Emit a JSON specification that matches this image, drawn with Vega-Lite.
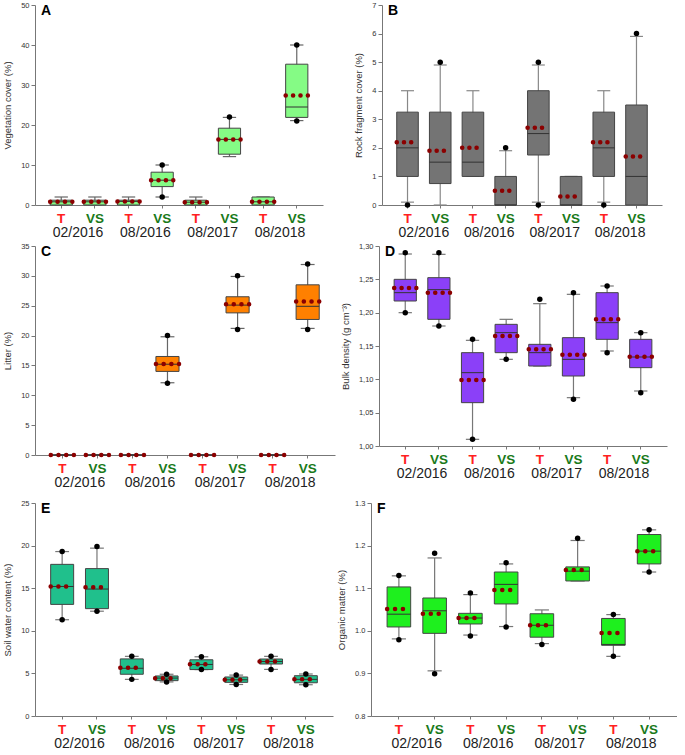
{
"$schema": "https://vega.github.io/schema/vega-lite/v6.json",
"padding": {"left": 2, "top": 1, "right": 0, "bottom": 0},
"background": "white",
"config": {
 "view": {"stroke": null},
 "font": "Liberation Sans",
 "axis": {"grid": false, "domainColor": "#777", "tickColor": "#777", "labelColor": "#333", "titleColor": "#333", "titleFontWeight": "normal", "labelFont": "Liberation Sans", "titleFont": "Liberation Sans"},
 "axisY": {"labelFontSize": 7.5, "titleFontSize": 9.5, "tickSize": 4, "labelPadding": 2, "titlePadding": 8, "labelOverlap": false},
 "axisX": {"tickSize": 3, "labelAngle": 0, "labelPadding": 3, "labelOverlap": false}
},
"datasets": {
 "A": [
  {"cat": "T|02/2016", "date": "02/2016", "q1": 0, "med": 0.8, "q3": 1.2, "lo": 0, "hi": 2, "mean": 0.8},
  {"cat": "VS|02/2016", "date": "02/2016", "q1": 0, "med": 0.8, "q3": 1.2, "lo": 0, "hi": 2, "mean": 0.8},
  {"cat": "T|08/2016", "date": "08/2016", "q1": 0, "med": 0.9, "q3": 1.2, "lo": 0, "hi": 2, "mean": 0.9},
  {"cat": "VS|08/2016", "date": "08/2016", "q1": 4.6, "med": 6.2, "q3": 8.2, "lo": 2, "hi": 10, "mean": 6.2},
  {"cat": "T|08/2017", "date": "08/2017", "q1": 0, "med": 0.7, "q3": 1.2, "lo": 0, "hi": 2, "mean": 0.7},
  {"cat": "VS|08/2017", "date": "08/2017", "q1": 12.7, "med": 16.4, "q3": 19.2, "lo": 12.1, "hi": 21.9, "mean": 16.4},
  {"cat": "T|08/2018", "date": "08/2018", "q1": 0, "med": 0.8, "q3": 2, "lo": 0, "hi": 2, "mean": 0.8},
  {"cat": "VS|08/2018", "date": "08/2018", "q1": 21.9, "med": 24.5, "q3": 35.2, "lo": 21.1, "hi": 40, "mean": 27.4}
 ],
 "Apts": [
  {"cat": "VS|08/2016", "v": 2}, {"cat": "VS|08/2016", "v": 10},
  {"cat": "VS|08/2017", "v": 22},
  {"cat": "VS|08/2018", "v": 21}, {"cat": "VS|08/2018", "v": 40}
 ],
 "B": [
  {"cat": "T|02/2016", "date": "02/2016", "q1": 1, "med": 2, "q3": 3.25, "lo": 0.1, "hi": 4, "mean": 2.2},
  {"cat": "VS|02/2016", "date": "02/2016", "q1": 0.75, "med": 1.5, "q3": 3.25, "lo": 0, "hi": 4.9, "mean": 1.9},
  {"cat": "T|08/2016", "date": "08/2016", "q1": 1, "med": 1.5, "q3": 3.25, "lo": 1, "hi": 4, "mean": 2.0},
  {"cat": "VS|08/2016", "date": "08/2016", "q1": 0, "med": 0, "q3": 1, "lo": 0, "hi": 1.9, "mean": 0.5},
  {"cat": "T|08/2017", "date": "08/2017", "q1": 1.75, "med": 2.5, "q3": 4, "lo": 0.1, "hi": 4.9, "mean": 2.7},
  {"cat": "VS|08/2017", "date": "08/2017", "q1": 0, "med": 0, "q3": 1, "lo": 0, "hi": 1, "mean": 0.3},
  {"cat": "T|08/2018", "date": "08/2018", "q1": 1, "med": 2, "q3": 3.25, "lo": 0.1, "hi": 4, "mean": 2.2},
  {"cat": "VS|08/2018", "date": "08/2018", "q1": 0, "med": 1, "q3": 3.5, "lo": 0, "hi": 5.9, "mean": 1.7}
 ],
 "Bpts": [
  {"cat": "T|02/2016", "v": 0}, {"cat": "VS|02/2016", "v": 5}, {"cat": "VS|08/2016", "v": 2},
  {"cat": "T|08/2017", "v": 0}, {"cat": "T|08/2017", "v": 5}, {"cat": "T|08/2018", "v": 0}, {"cat": "VS|08/2018", "v": 6}
 ],
 "C": [
  {"cat": "T|02/2016", "date": "02/2016", "q1": 0, "med": 0, "q3": 0, "lo": 0, "hi": 0, "mean": 0},
  {"cat": "VS|02/2016", "date": "02/2016", "q1": 0, "med": 0, "q3": 0, "lo": 0, "hi": 0, "mean": 0},
  {"cat": "T|08/2016", "date": "08/2016", "q1": 0, "med": 0, "q3": 0, "lo": 0, "hi": 0, "mean": 0},
  {"cat": "VS|08/2016", "date": "08/2016", "q1": 14, "med": 15.2, "q3": 16.5, "lo": 12.1, "hi": 19.8, "mean": 15.25},
  {"cat": "T|08/2017", "date": "08/2017", "q1": 0, "med": 0, "q3": 0, "lo": 0, "hi": 0, "mean": 0},
  {"cat": "VS|08/2017", "date": "08/2017", "q1": 23.8, "med": 25.1, "q3": 26.5, "lo": 21.2, "hi": 29.9, "mean": 25.25},
  {"cat": "T|08/2018", "date": "08/2018", "q1": 0, "med": 0, "q3": 0, "lo": 0, "hi": 0, "mean": 0},
  {"cat": "VS|08/2018", "date": "08/2018", "q1": 22.7, "med": 24.9, "q3": 28.5, "lo": 21.2, "hi": 31.9, "mean": 25.7}
 ],
 "Cpts": [
  {"cat": "VS|08/2016", "v": 12}, {"cat": "VS|08/2016", "v": 20},
  {"cat": "VS|08/2017", "v": 21}, {"cat": "VS|08/2017", "v": 30},
  {"cat": "VS|08/2018", "v": 21}, {"cat": "VS|08/2018", "v": 32}
 ],
 "D": [
  {"cat": "T|02/2016", "date": "02/2016", "q1": 1.2175, "med": 1.23, "q3": 1.25, "lo": 1.2, "hi": 1.288, "mean": 1.237},
  {"cat": "VS|02/2016", "date": "02/2016", "q1": 1.19, "med": 1.2345, "q3": 1.2525, "lo": 1.18, "hi": 1.2875, "mean": 1.23},
  {"cat": "T|08/2016", "date": "08/2016", "q1": 1.065, "med": 1.11, "q3": 1.14, "lo": 1.01, "hi": 1.1585, "mean": 1.099},
  {"cat": "VS|08/2016", "date": "08/2016", "q1": 1.14, "med": 1.17, "q3": 1.1825, "lo": 1.13, "hi": 1.19, "mean": 1.165},
  {"cat": "T|08/2017", "date": "08/2017", "q1": 1.12, "med": 1.14, "q3": 1.1525, "lo": 1.12, "hi": 1.2135, "mean": 1.145},
  {"cat": "VS|08/2017", "date": "08/2017", "q1": 1.105, "med": 1.13, "q3": 1.1625, "lo": 1.0725, "hi": 1.2275, "mean": 1.137},
  {"cat": "T|08/2018", "date": "08/2018", "q1": 1.16, "med": 1.185, "q3": 1.23, "lo": 1.1425, "hi": 1.24, "mean": 1.19},
  {"cat": "VS|08/2018", "date": "08/2018", "q1": 1.1175, "med": 1.1335, "q3": 1.16, "lo": 1.0825, "hi": 1.17, "mean": 1.134}
 ],
 "Dpts": [
  {"cat": "T|02/2016", "v": 1.2}, {"cat": "T|02/2016", "v": 1.29},
  {"cat": "VS|02/2016", "v": 1.18}, {"cat": "VS|02/2016", "v": 1.29},
  {"cat": "T|08/2016", "v": 1.01}, {"cat": "T|08/2016", "v": 1.16},
  {"cat": "VS|08/2016", "v": 1.13},
  {"cat": "T|08/2017", "v": 1.22},
  {"cat": "VS|08/2017", "v": 1.07}, {"cat": "VS|08/2017", "v": 1.23},
  {"cat": "T|08/2018", "v": 1.14}, {"cat": "T|08/2018", "v": 1.24},
  {"cat": "VS|08/2018", "v": 1.08}, {"cat": "VS|08/2018", "v": 1.17}
 ],
 "E": [
  {"cat": "T|02/2016", "date": "02/2016", "q1": 13.1, "med": 15.2, "q3": 17.8, "lo": 11.3, "hi": 19.3, "mean": 15.2},
  {"cat": "VS|02/2016", "date": "02/2016", "q1": 12.6, "med": 14.9, "q3": 17.3, "lo": 12.3, "hi": 19.7, "mean": 15.1},
  {"cat": "T|08/2016", "date": "08/2016", "q1": 4.9, "med": 5.6, "q3": 6.7, "lo": 4.3, "hi": 7.0, "mean": 5.65},
  {"cat": "VS|08/2016", "date": "08/2016", "q1": 4.15, "med": 4.45, "q3": 4.7, "lo": 4.0, "hi": 4.9, "mean": 4.42},
  {"cat": "T|08/2017", "date": "08/2017", "q1": 5.45, "med": 6.05, "q3": 6.6, "lo": 5.45, "hi": 6.95, "mean": 6.06},
  {"cat": "VS|08/2017", "date": "08/2017", "q1": 3.95, "med": 4.25, "q3": 4.58, "lo": 3.7, "hi": 4.8, "mean": 4.26},
  {"cat": "T|08/2018", "date": "08/2018", "q1": 6.1, "med": 6.4, "q3": 6.69, "lo": 5.47, "hi": 7.0, "mean": 6.4},
  {"cat": "VS|08/2018", "date": "08/2018", "q1": 3.9, "med": 4.3, "q3": 4.73, "lo": 3.67, "hi": 4.93, "mean": 4.3}
 ],
 "Epts": [
  {"cat": "T|02/2016", "v": 11.3}, {"cat": "T|02/2016", "v": 19.3},
  {"cat": "VS|02/2016", "v": 12.3}, {"cat": "VS|02/2016", "v": 19.9},
  {"cat": "T|08/2016", "v": 4.3}, {"cat": "T|08/2016", "v": 7.0},
  {"cat": "VS|08/2016", "v": 4.0}, {"cat": "VS|08/2016", "v": 4.9},
  {"cat": "T|08/2017", "v": 5.45}, {"cat": "T|08/2017", "v": 6.96},
  {"cat": "VS|08/2017", "v": 3.7}, {"cat": "VS|08/2017", "v": 4.8},
  {"cat": "T|08/2018", "v": 5.47}, {"cat": "T|08/2018", "v": 7.0},
  {"cat": "VS|08/2018", "v": 3.67}, {"cat": "VS|08/2018", "v": 4.93}
 ],
 "F": [
  {"cat": "T|02/2016", "date": "02/2016", "q1": 1.009, "med": 1.039, "q3": 1.103, "lo": 0.981, "hi": 1.129, "mean": 1.051},
  {"cat": "VS|02/2016", "date": "02/2016", "q1": 0.994, "med": 1.047, "q3": 1.077, "lo": 0.906, "hi": 1.171, "mean": 1.04},
  {"cat": "T|08/2016", "date": "08/2016", "q1": 1.016, "med": 1.03, "q3": 1.041, "lo": 0.99, "hi": 1.085, "mean": 1.03},
  {"cat": "VS|08/2016", "date": "08/2016", "q1": 1.063, "med": 1.109, "q3": 1.138, "lo": 1.01, "hi": 1.157, "mean": 1.096},
  {"cat": "T|08/2017", "date": "08/2017", "q1": 0.985, "med": 1.013, "q3": 1.04, "lo": 0.97, "hi": 1.049, "mean": 1.013},
  {"cat": "VS|08/2017", "date": "08/2017", "q1": 1.117, "med": 1.14, "q3": 1.15, "lo": 1.117, "hi": 1.212, "mean": 1.143},
  {"cat": "T|08/2018", "date": "08/2018", "q1": 0.966, "med": 0.968, "q3": 1.029, "lo": 0.94, "hi": 1.038, "mean": 0.995},
  {"cat": "VS|08/2018", "date": "08/2018", "q1": 1.157, "med": 1.187, "q3": 1.226, "lo": 1.138, "hi": 1.237, "mean": 1.187}
 ],
 "Fpts": [
  {"cat": "T|02/2016", "v": 0.979}, {"cat": "T|02/2016", "v": 1.13},
  {"cat": "VS|02/2016", "v": 0.899}, {"cat": "VS|02/2016", "v": 1.182},
  {"cat": "T|08/2016", "v": 0.988}, {"cat": "T|08/2016", "v": 1.089},
  {"cat": "VS|08/2016", "v": 1.009}, {"cat": "VS|08/2016", "v": 1.16},
  {"cat": "T|08/2017", "v": 0.968},
  {"cat": "VS|08/2017", "v": 1.217},
  {"cat": "T|08/2018", "v": 0.94}, {"cat": "T|08/2018", "v": 1.038},
  {"cat": "VS|08/2018", "v": 1.138}, {"cat": "VS|08/2018", "v": 1.237}
 ]
},
"vconcat": [
 {"vconcat": [
  {"hconcat": [
   {"width": 288, "height": 200,
    "title": {"text": "A", "anchor": "start", "frame": "group", "offset": -17, "dx": 6, "fontSize": 14, "fontWeight": "bold", "color": "#000"},
    "resolve": {"scale": {"x": "independent"}, "axis": {"x": "independent"}},
    "layer": [
     {"layer": [
      {"data": {"name": "A"}, "mark": {"type": "rule", "color": "#666", "strokeWidth": 1.2},
       "encoding": {"x": {"field": "cat", "type": "nominal", "sort": null, "scale": {"domain": ["T|02/2016","VS|02/2016","T|08/2016","VS|08/2016","T|08/2017","VS|08/2017","T|08/2018","VS|08/2018"], "paddingInner": 0.34, "paddingOuter": 0.45}, "axis": {"title": null, "labelOverlap": false, "labelExpr": "split(datum.value,'|')[0]", "labelFontSize": 13.5, "labelFontWeight": "bold", "labelColor": {"condition": {"test": "indexof(datum.value,'T|')==0", "value": "#ff2020"}, "value": "#1a7a1a"}}},
        "y": {"field": "lo", "type": "quantitative", "scale": {"domain": [0, 50], "nice": false, "zero": false}, "axis": {"title": "Vegetation cover (%)", "labelOverlap": false, "tickCount": 20, "format": "d", "values": [0,10,20,30,40,50]}},
        "y2": {"field": "hi"}}},
      {"data": {"name": "A"}, "mark": {"type": "rule", "color": "#666", "strokeWidth": 1.2},
       "encoding": {"x": {"field": "cat", "type": "nominal", "bandPosition": 0.2}, "x2": {"field": "cat", "bandPosition": 0.8}, "y": {"field": "lo", "type": "quantitative"}}},
      {"data": {"name": "A"}, "mark": {"type": "rule", "color": "#666", "strokeWidth": 1.2},
       "encoding": {"x": {"field": "cat", "type": "nominal", "bandPosition": 0.2}, "x2": {"field": "cat", "bandPosition": 0.8}, "y": {"field": "hi", "type": "quantitative"}}},
      {"data": {"name": "A"}, "mark": {"type": "bar", "fill": "#85fb85", "stroke": "#444", "strokeWidth": 1},
       "encoding": {"x": {"field": "cat", "type": "nominal"}, "y": {"field": "q1", "type": "quantitative"}, "y2": {"field": "q3"}}},
      {"data": {"name": "A"}, "mark": {"type": "rule", "color": "#333", "strokeWidth": 1},
       "encoding": {"x": {"field": "cat", "type": "nominal", "bandPosition": 0}, "x2": {"field": "cat", "bandPosition": 1}, "y": {"field": "med", "type": "quantitative"}}},
      {"data": {"name": "Apts"}, "mark": {"type": "circle", "color": "#000", "size": 30, "opacity": 1},
       "encoding": {"x": {"field": "cat", "type": "nominal"}, "y": {"field": "v", "type": "quantitative"}}},
      {"data": {"name": "A"}, "mark": {"type": "rule", "stroke": "#8b0000", "strokeWidth": 4.5, "strokeCap": "round", "strokeDash": [0.1, 7.3]},
       "encoding": {"x": {"field": "cat", "type": "nominal", "bandPosition": 0}, "x2": {"field": "cat", "bandPosition": 1}, "y": {"field": "mean", "type": "quantitative"}}}
     ]},
     {"data": {"name": "A"}, "mark": {"type": "rule", "strokeOpacity": 0},
      "encoding": {"x": {"field": "date", "type": "nominal", "sort": null, "scale": {"domain": ["02/2016","08/2016","08/2017","08/2018"], "paddingInner": 0, "paddingOuter": 0.14}, "axis": {"orient": "bottom", "title": null, "ticks": false, "domain": false, "labelOverlap": false, "labelPadding": 20, "labelFontSize": 14, "labelColor": "#222"}}}}
    ]},
   {"width": 280, "height": 200,
    "title": {"text": "B", "anchor": "start", "frame": "group", "offset": -17, "dx": 6, "fontSize": 14, "fontWeight": "bold", "color": "#000"},
    "resolve": {"scale": {"x": "independent"}, "axis": {"x": "independent"}},
    "layer": [
     {"layer": [
      {"data": {"name": "B"}, "mark": {"type": "rule", "color": "#888", "strokeWidth": 1.2},
       "encoding": {"x": {"field": "cat", "type": "nominal", "sort": null, "scale": {"domain": ["T|02/2016","VS|02/2016","T|08/2016","VS|08/2016","T|08/2017","VS|08/2017","T|08/2018","VS|08/2018"], "paddingInner": 0.34, "paddingOuter": 0.45}, "axis": {"title": null, "labelOverlap": false, "labelExpr": "split(datum.value,'|')[0]", "labelFontSize": 13.5, "labelFontWeight": "bold", "labelColor": {"condition": {"test": "indexof(datum.value,'T|')==0", "value": "#ff2020"}, "value": "#1a7a1a"}}},
        "y": {"field": "lo", "type": "quantitative", "scale": {"domain": [0, 7], "nice": false, "zero": false}, "axis": {"title": "Rock fragment cover (%)", "labelOverlap": false, "tickCount": 20, "format": "d", "values": [0,1,2,3,4,5,6,7]}},
        "y2": {"field": "hi"}}},
      {"data": {"name": "B"}, "mark": {"type": "rule", "color": "#888", "strokeWidth": 1.2},
       "encoding": {"x": {"field": "cat", "type": "nominal", "bandPosition": 0.2}, "x2": {"field": "cat", "bandPosition": 0.8}, "y": {"field": "lo", "type": "quantitative"}}},
      {"data": {"name": "B"}, "mark": {"type": "rule", "color": "#888", "strokeWidth": 1.2},
       "encoding": {"x": {"field": "cat", "type": "nominal", "bandPosition": 0.2}, "x2": {"field": "cat", "bandPosition": 0.8}, "y": {"field": "hi", "type": "quantitative"}}},
      {"data": {"name": "B"}, "mark": {"type": "bar", "fill": "#747474", "stroke": "#444", "strokeWidth": 1},
       "encoding": {"x": {"field": "cat", "type": "nominal"}, "y": {"field": "q1", "type": "quantitative"}, "y2": {"field": "q3"}}},
      {"data": {"name": "B"}, "mark": {"type": "rule", "color": "#333", "strokeWidth": 1},
       "encoding": {"x": {"field": "cat", "type": "nominal", "bandPosition": 0}, "x2": {"field": "cat", "bandPosition": 1}, "y": {"field": "med", "type": "quantitative"}}},
      {"data": {"name": "Bpts"}, "mark": {"type": "circle", "color": "#000", "size": 30, "opacity": 1},
       "encoding": {"x": {"field": "cat", "type": "nominal"}, "y": {"field": "v", "type": "quantitative"}}},
      {"data": {"name": "B"}, "mark": {"type": "rule", "stroke": "#8b0000", "strokeWidth": 4.5, "strokeCap": "round", "strokeDash": [0.1, 7.1]},
       "encoding": {"x": {"field": "cat", "type": "nominal", "bandPosition": 0}, "x2": {"field": "cat", "bandPosition": 1}, "y": {"field": "mean", "type": "quantitative"}}}
     ]},
     {"data": {"name": "B"}, "mark": {"type": "rule", "strokeOpacity": 0},
      "encoding": {"x": {"field": "date", "type": "nominal", "sort": null, "scale": {"domain": ["02/2016","08/2016","08/2017","08/2018"], "paddingInner": 0, "paddingOuter": 0.14}, "axis": {"orient": "bottom", "title": null, "ticks": false, "domain": false, "labelOverlap": false, "labelPadding": 20, "labelFontSize": 14, "labelColor": "#222"}}}}
    ]}
  ], "spacing": 30},
  {"hconcat": [
   {"width": 300, "height": 209,
    "title": {"text": "C", "anchor": "start", "frame": "group", "offset": -17, "dx": 6, "fontSize": 14, "fontWeight": "bold", "color": "#000"},
    "resolve": {"scale": {"x": "independent"}, "axis": {"x": "independent"}},
    "layer": [
     {"layer": [
      {"data": {"name": "C"}, "mark": {"type": "rule", "color": "#666", "strokeWidth": 1.2},
       "encoding": {"x": {"field": "cat", "type": "nominal", "sort": null, "scale": {"domain": ["T|02/2016","VS|02/2016","T|08/2016","VS|08/2016","T|08/2017","VS|08/2017","T|08/2018","VS|08/2018"], "paddingInner": 0.34, "paddingOuter": 0.45}, "axis": {"title": null, "labelOverlap": false, "labelExpr": "split(datum.value,'|')[0]", "labelFontSize": 13.5, "labelFontWeight": "bold", "labelColor": {"condition": {"test": "indexof(datum.value,'T|')==0", "value": "#ff2020"}, "value": "#1a7a1a"}}},
        "y": {"field": "lo", "type": "quantitative", "scale": {"domain": [0, 35], "nice": false, "zero": false}, "axis": {"title": "Litter (%)", "labelOverlap": false, "tickCount": 20, "format": "d", "values": [0,5,10,15,20,25,30,35]}},
        "y2": {"field": "hi"}}},
      {"data": {"name": "C"}, "mark": {"type": "rule", "color": "#666", "strokeWidth": 1.2},
       "encoding": {"x": {"field": "cat", "type": "nominal", "bandPosition": 0.2}, "x2": {"field": "cat", "bandPosition": 0.8}, "y": {"field": "lo", "type": "quantitative"}}},
      {"data": {"name": "C"}, "mark": {"type": "rule", "color": "#666", "strokeWidth": 1.2},
       "encoding": {"x": {"field": "cat", "type": "nominal", "bandPosition": 0.2}, "x2": {"field": "cat", "bandPosition": 0.8}, "y": {"field": "hi", "type": "quantitative"}}},
      {"data": {"name": "C"}, "mark": {"type": "bar", "fill": "#ff8000", "stroke": "#444", "strokeWidth": 1},
       "encoding": {"x": {"field": "cat", "type": "nominal"}, "y": {"field": "q1", "type": "quantitative"}, "y2": {"field": "q3"}}},
      {"data": {"name": "C"}, "mark": {"type": "rule", "color": "#333", "strokeWidth": 1},
       "encoding": {"x": {"field": "cat", "type": "nominal", "bandPosition": 0}, "x2": {"field": "cat", "bandPosition": 1}, "y": {"field": "med", "type": "quantitative"}}},
      {"data": {"name": "Cpts"}, "mark": {"type": "circle", "color": "#000", "size": 30, "opacity": 1},
       "encoding": {"x": {"field": "cat", "type": "nominal"}, "y": {"field": "v", "type": "quantitative"}}},
      {"data": {"name": "C"}, "mark": {"type": "rule", "stroke": "#8b0000", "strokeWidth": 4.5, "strokeCap": "round", "strokeDash": [0.1, 7.6]},
       "encoding": {"x": {"field": "cat", "type": "nominal", "bandPosition": 0}, "x2": {"field": "cat", "bandPosition": 1}, "y": {"field": "mean", "type": "quantitative"}}}
     ]},
     {"data": {"name": "C"}, "mark": {"type": "rule", "strokeOpacity": 0},
      "encoding": {"x": {"field": "date", "type": "nominal", "sort": null, "scale": {"domain": ["02/2016","08/2016","08/2017","08/2018"], "paddingInner": 0, "paddingOuter": 0.14}, "axis": {"orient": "bottom", "title": null, "ticks": false, "domain": false, "labelOverlap": false, "labelPadding": 20, "labelFontSize": 14, "labelColor": "#222"}}}}
    ]},
   {"width": 288, "height": 200,
    "title": {"text": "D", "anchor": "start", "frame": "group", "offset": -17, "dx": 6, "fontSize": 14, "fontWeight": "bold", "color": "#000"},
    "resolve": {"scale": {"x": "independent"}, "axis": {"x": "independent"}},
    "layer": [
     {"layer": [
      {"data": {"name": "D"}, "mark": {"type": "rule", "color": "#777", "strokeWidth": 1.2},
       "encoding": {"x": {"field": "cat", "type": "nominal", "sort": null, "scale": {"domain": ["T|02/2016","VS|02/2016","T|08/2016","VS|08/2016","T|08/2017","VS|08/2017","T|08/2018","VS|08/2018"], "paddingInner": 0.34, "paddingOuter": 0.45}, "axis": {"title": null, "labelOverlap": false, "labelExpr": "split(datum.value,'|')[0]", "labelFontSize": 13.5, "labelFontWeight": "bold", "labelColor": {"condition": {"test": "indexof(datum.value,'T|')==0", "value": "#ff2020"}, "value": "#1a7a1a"}}},
        "y": {"field": "lo", "type": "quantitative", "scale": {"domain": [1.0, 1.3], "nice": false, "zero": false}, "axis": {"title": "Bulk density (g cm⁻³)", "labelOverlap": false, "tickCount": 20, "values": [1.0,1.05,1.1,1.15,1.2,1.25,1.3], "labelExpr": "replace(format(datum.value, '.2f'), '.', ',')"}},
        "y2": {"field": "hi"}}},
      {"data": {"name": "D"}, "mark": {"type": "rule", "color": "#777", "strokeWidth": 1.2},
       "encoding": {"x": {"field": "cat", "type": "nominal", "bandPosition": 0.2}, "x2": {"field": "cat", "bandPosition": 0.8}, "y": {"field": "lo", "type": "quantitative"}}},
      {"data": {"name": "D"}, "mark": {"type": "rule", "color": "#777", "strokeWidth": 1.2},
       "encoding": {"x": {"field": "cat", "type": "nominal", "bandPosition": 0.2}, "x2": {"field": "cat", "bandPosition": 0.8}, "y": {"field": "hi", "type": "quantitative"}}},
      {"data": {"name": "D"}, "mark": {"type": "bar", "fill": "#8b40f8", "stroke": "#444", "strokeWidth": 1},
       "encoding": {"x": {"field": "cat", "type": "nominal"}, "y": {"field": "q1", "type": "quantitative"}, "y2": {"field": "q3"}}},
      {"data": {"name": "D"}, "mark": {"type": "rule", "color": "#333", "strokeWidth": 1},
       "encoding": {"x": {"field": "cat", "type": "nominal", "bandPosition": 0}, "x2": {"field": "cat", "bandPosition": 1}, "y": {"field": "med", "type": "quantitative"}}},
      {"data": {"name": "Dpts"}, "mark": {"type": "circle", "color": "#000", "size": 30, "opacity": 1},
       "encoding": {"x": {"field": "cat", "type": "nominal"}, "y": {"field": "v", "type": "quantitative"}}},
      {"data": {"name": "D"}, "mark": {"type": "rule", "stroke": "#8b0000", "strokeWidth": 4.5, "strokeCap": "round", "strokeDash": [0.1, 7.3]},
       "encoding": {"x": {"field": "cat", "type": "nominal", "bandPosition": 0}, "x2": {"field": "cat", "bandPosition": 1}, "y": {"field": "mean", "type": "quantitative"}}}
     ]},
     {"data": {"name": "D"}, "mark": {"type": "rule", "strokeOpacity": 0},
      "encoding": {"x": {"field": "date", "type": "nominal", "sort": null, "scale": {"domain": ["02/2016","08/2016","08/2017","08/2018"], "paddingInner": 0, "paddingOuter": 0.14}, "axis": {"orient": "bottom", "title": null, "ticks": false, "domain": false, "labelOverlap": false, "labelPadding": 20, "labelFontSize": 14, "labelColor": "#222"}}}}
    ]}
  ], "spacing": 5}
 ], "spacing": 3},
 {"hconcat": [
   {"width": 298, "height": 213,
    "title": {"text": "E", "anchor": "start", "frame": "group", "offset": -17, "dx": 6, "fontSize": 14, "fontWeight": "bold", "color": "#000"},
    "resolve": {"scale": {"x": "independent"}, "axis": {"x": "independent"}},
    "layer": [
     {"layer": [
      {"data": {"name": "E"}, "mark": {"type": "rule", "color": "#777", "strokeWidth": 1.2},
       "encoding": {"x": {"field": "cat", "type": "nominal", "sort": null, "scale": {"domain": ["T|02/2016","VS|02/2016","T|08/2016","VS|08/2016","T|08/2017","VS|08/2017","T|08/2018","VS|08/2018"], "paddingInner": 0.34, "paddingOuter": 0.45}, "axis": {"title": null, "labelOverlap": false, "labelExpr": "split(datum.value,'|')[0]", "labelFontSize": 13.5, "labelFontWeight": "bold", "labelColor": {"condition": {"test": "indexof(datum.value,'T|')==0", "value": "#ff2020"}, "value": "#1a7a1a"}}},
        "y": {"field": "lo", "type": "quantitative", "scale": {"domain": [0, 25], "nice": false, "zero": false}, "axis": {"title": "Soil water content (%)", "labelOverlap": false, "tickCount": 20, "format": "d", "values": [0,5,10,15,20,25]}},
        "y2": {"field": "hi"}}},
      {"data": {"name": "E"}, "mark": {"type": "rule", "color": "#777", "strokeWidth": 1.2},
       "encoding": {"x": {"field": "cat", "type": "nominal", "bandPosition": 0.2}, "x2": {"field": "cat", "bandPosition": 0.8}, "y": {"field": "lo", "type": "quantitative"}}},
      {"data": {"name": "E"}, "mark": {"type": "rule", "color": "#777", "strokeWidth": 1.2},
       "encoding": {"x": {"field": "cat", "type": "nominal", "bandPosition": 0.2}, "x2": {"field": "cat", "bandPosition": 0.8}, "y": {"field": "hi", "type": "quantitative"}}},
      {"data": {"name": "E"}, "mark": {"type": "bar", "fill": "#20c08c", "stroke": "#444", "strokeWidth": 1},
       "encoding": {"x": {"field": "cat", "type": "nominal"}, "y": {"field": "q1", "type": "quantitative"}, "y2": {"field": "q3"}}},
      {"data": {"name": "E"}, "mark": {"type": "rule", "color": "#333", "strokeWidth": 1},
       "encoding": {"x": {"field": "cat", "type": "nominal", "bandPosition": 0}, "x2": {"field": "cat", "bandPosition": 1}, "y": {"field": "med", "type": "quantitative"}}},
      {"data": {"name": "Epts"}, "mark": {"type": "circle", "color": "#000", "size": 30, "opacity": 1},
       "encoding": {"x": {"field": "cat", "type": "nominal"}, "y": {"field": "v", "type": "quantitative"}}},
      {"data": {"name": "E"}, "mark": {"type": "rule", "stroke": "#8b0000", "strokeWidth": 4.5, "strokeCap": "round", "strokeDash": [0.1, 7.6]},
       "encoding": {"x": {"field": "cat", "type": "nominal", "bandPosition": 0}, "x2": {"field": "cat", "bandPosition": 1}, "y": {"field": "mean", "type": "quantitative"}}}
     ]},
     {"data": {"name": "E"}, "mark": {"type": "rule", "strokeOpacity": 0},
      "encoding": {"x": {"field": "date", "type": "nominal", "sort": null, "scale": {"domain": ["02/2016","08/2016","08/2017","08/2018"], "paddingInner": 0, "paddingOuter": 0.14}, "axis": {"orient": "bottom", "title": null, "ticks": false, "domain": false, "labelOverlap": false, "labelPadding": 20, "labelFontSize": 14, "labelColor": "#222"}}}}
    ]},
   {"width": 306, "height": 213,
    "title": {"text": "F", "anchor": "start", "frame": "group", "offset": -17, "dx": 6, "fontSize": 14, "fontWeight": "bold", "color": "#000"},
    "resolve": {"scale": {"x": "independent"}, "axis": {"x": "independent"}},
    "layer": [
     {"layer": [
      {"data": {"name": "F"}, "mark": {"type": "rule", "color": "#777", "strokeWidth": 1.2},
       "encoding": {"x": {"field": "cat", "type": "nominal", "sort": null, "scale": {"domain": ["T|02/2016","VS|02/2016","T|08/2016","VS|08/2016","T|08/2017","VS|08/2017","T|08/2018","VS|08/2018"], "paddingInner": 0.34, "paddingOuter": 0.45}, "axis": {"title": null, "labelOverlap": false, "labelExpr": "split(datum.value,'|')[0]", "labelFontSize": 13.5, "labelFontWeight": "bold", "labelColor": {"condition": {"test": "indexof(datum.value,'T|')==0", "value": "#ff2020"}, "value": "#1a7a1a"}}},
        "y": {"field": "lo", "type": "quantitative", "scale": {"domain": [0.8, 1.3], "nice": false, "zero": false}, "axis": {"title": "Organic matter (%)", "labelOverlap": false, "tickCount": 20, "values": [0.8,0.9,1.0,1.1,1.2,1.3], "format": ".1f"}},
        "y2": {"field": "hi"}}},
      {"data": {"name": "F"}, "mark": {"type": "rule", "color": "#777", "strokeWidth": 1.2},
       "encoding": {"x": {"field": "cat", "type": "nominal", "bandPosition": 0.2}, "x2": {"field": "cat", "bandPosition": 0.8}, "y": {"field": "lo", "type": "quantitative"}}},
      {"data": {"name": "F"}, "mark": {"type": "rule", "color": "#777", "strokeWidth": 1.2},
       "encoding": {"x": {"field": "cat", "type": "nominal", "bandPosition": 0.2}, "x2": {"field": "cat", "bandPosition": 0.8}, "y": {"field": "hi", "type": "quantitative"}}},
      {"data": {"name": "F"}, "mark": {"type": "bar", "fill": "#1ef01e", "stroke": "#444", "strokeWidth": 1},
       "encoding": {"x": {"field": "cat", "type": "nominal"}, "y": {"field": "q1", "type": "quantitative"}, "y2": {"field": "q3"}}},
      {"data": {"name": "F"}, "mark": {"type": "rule", "color": "#333", "strokeWidth": 1},
       "encoding": {"x": {"field": "cat", "type": "nominal", "bandPosition": 0}, "x2": {"field": "cat", "bandPosition": 1}, "y": {"field": "med", "type": "quantitative"}}},
      {"data": {"name": "Fpts"}, "mark": {"type": "circle", "color": "#000", "size": 30, "opacity": 1},
       "encoding": {"x": {"field": "cat", "type": "nominal"}, "y": {"field": "v", "type": "quantitative"}}},
      {"data": {"name": "F"}, "mark": {"type": "rule", "stroke": "#8b0000", "strokeWidth": 4.5, "strokeCap": "round", "strokeDash": [0.1, 7.8]},
       "encoding": {"x": {"field": "cat", "type": "nominal", "bandPosition": 0}, "x2": {"field": "cat", "bandPosition": 1}, "y": {"field": "mean", "type": "quantitative"}}}
     ]},
     {"data": {"name": "F"}, "mark": {"type": "rule", "strokeOpacity": 0},
      "encoding": {"x": {"field": "date", "type": "nominal", "sort": null, "scale": {"domain": ["02/2016","08/2016","08/2017","08/2018"], "paddingInner": 0, "paddingOuter": 0.14}, "axis": {"orient": "bottom", "title": null, "ticks": false, "domain": false, "labelOverlap": false, "labelPadding": 20, "labelFontSize": 14, "labelColor": "#222"}}}}
    ]}
 ], "spacing": 3}
], "spacing": 10
}
